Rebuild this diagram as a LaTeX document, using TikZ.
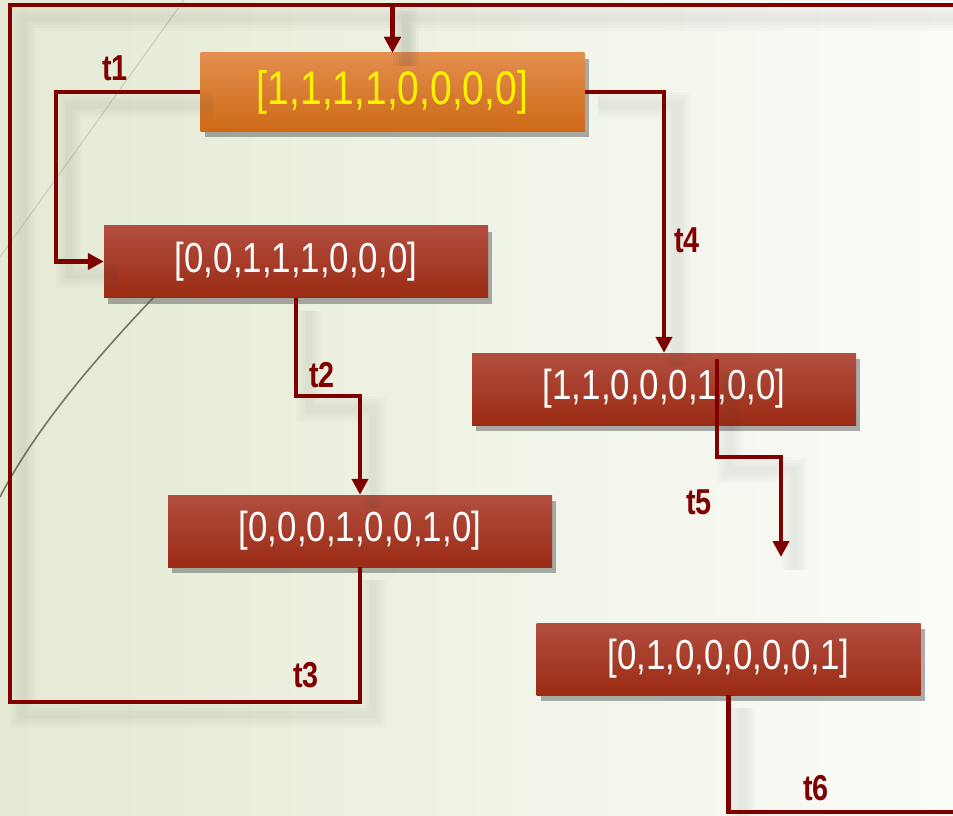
\documentclass[tikz,border=0pt]{standalone}
\usepackage{fontspec}
\newfontfamily\boxfont[FakeStretch=0.83]{Liberation Sans}
\newfontfamily\labfont[FakeStretch=0.8]{Liberation Sans}
\usetikzlibrary{arrows.meta,shadows}

\definecolor{arcred}{HTML}{800000}
\definecolor{boxtop}{HTML}{B34E40}
\definecolor{boxbot}{HTML}{9A2B13}
\definecolor{inittop}{HTML}{E38E4E}
\definecolor{initbot}{HTML}{CD6A15}
\definecolor{bgleft}{HTML}{E4EAD4}
\definecolor{bgright}{HTML}{FBFCF8}
\definecolor{deco}{HTML}{7A7560}

\tikzset{
  marking/.style={minimum width=384pt, minimum height=72pt, inner sep=0pt,
    top color=boxtop, bottom color=boxbot, text=white,
    font=\boxfont\fontsize{42}{48}\selectfont,
    drop shadow={shadow xshift=4pt, shadow yshift=-6pt, opacity=.45, fill=black!70}},
  initmarking/.style={marking, minimum height=78pt,
    top color=inittop, bottom color=initbot, text=yellow,
    font=\boxfont\fontsize{47}{52}\selectfont},
  blur/.style={preaction={draw=black!70, -, opacity=.025, line width=#1,
      transform canvas={shift={(13pt,-13pt)}}}},
  trans/.style={draw=arcred, line width=4.5pt, -{Triangle[length=16pt,width=16pt]},
    blur=26pt, blur=20pt, blur=14pt, blur=8pt},
  tlabel/.style={text=arcred, inner sep=0pt, font=\labfont\bfseries\fontsize{36}{40}\selectfont}
}

\begin{document}
\begin{tikzpicture}[x=1pt,y=-1pt]
\useasboundingbox (0,0) rectangle (953,816);
\clip (0,0) rectangle (953,816);
\fill[left color=bgleft, right color=bgright] (0,0) rectangle (953,816);
\draw[deco!40, line width=1pt] (184,0) -- (0,257);
\draw[deco, line width=1.6pt] (200,250) .. controls (110,340) and (40,420) .. (0,497);

% markings
\node[initmarking] (A) at (392.5,92) {[1,1,1,1,0,0,0,0]};
\node[marking] (B) at (296,261.5) {[0,0,1,1,1,0,0,0]};
\node[marking] (C) at (664,389) {[1,1,0,0,0,1,0,0]};
\node[marking] (D) at (360,531) {[0,0,0,1,0,0,1,0]};
\node[marking] (E) at (728.5,659) {[0,1,0,0,0,0,0,1]};

% transitions
\draw[trans] (A.west) -- (56,92) |- (B.west);
\draw[trans] (B.south) |- (328,396) -| (D.north);
\draw[trans] (D.south) |- (10,702) -- (10,5) -| (A.north);
\draw[trans] (A.east) -| (C.north);
\coordinate (t5s) at (717,359);
\coordinate (t5e) at (781,557);
\draw[trans] (t5s) |- (749,457) -| (t5e);
\draw[trans] (E.south) |- (962,812) -- (962,5) -| (A.north);

\node[tlabel] (l1) at (115,68) {t1};
\node[tlabel] (l2) at (322,375) {t2};
\node[tlabel] (l3) at (306,675) {t3};
\node[tlabel] (l4) at (687,240) {t4};
\node[tlabel] (l5) at (699,502) {t5};
\node[tlabel] (l6) at (816,788) {t6};
\end{tikzpicture}
\end{document}
